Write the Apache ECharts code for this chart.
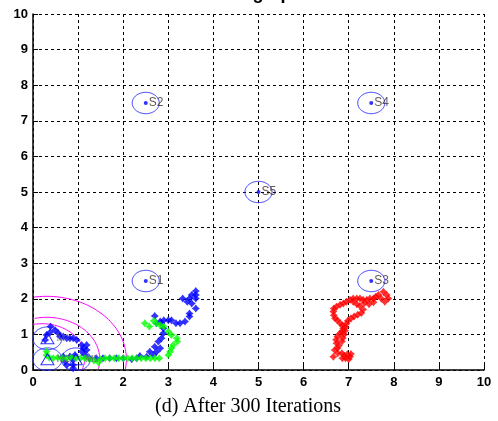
<!DOCTYPE html>
<html><head><meta charset="utf-8">
<script src="https://cdn.jsdelivr.net/npm/echarts@6/dist/echarts.min.js"></script>
<style>html,body{margin:0;padding:0;background:#fff}#c{width:498px;height:421px}</style>
</head><body><div id="c"></div>
<script>
const titleText = 'Searching Space';
const captionText = '(d) After 300 Iterations';
const xTicks = [0,1,2,3,4,5,6,7,8,9,10];
const yTicks = [0,1,2,3,4,5,6,7,8,9,10];

const sensorNames = ['S1','S2','S3','S4','S5'];
const sensorX = [2.5, 2.5, 7.5, 7.5, 5];
const sensorY = [2.5, 7.5, 2.5, 7.5, 5];
const sensorRadius = [0.3, 0.3, 0.3, 0.3, 0.3];

const mobileNames = ['M1','M2','M3'];
const mobileX = [0.32, 0.32, 0.95];
const mobileY = [0.89, 0.30, 0.30];
const mobileRadius = [0.32, 0.32, 0.32];

const rangeX = [0.3, 0.3, 0.2];
const rangeY = [0.3, 0.3, 0.35];
const rangeR = [1.77, 1.18, 0.95];

const bluePath = [[0.39,1.22],[0.49,1.12],[0.38,1.06],[0.56,1.03],[0.60,0.94],[0.67,0.94],[0.75,0.89],[0.82,0.89],[0.89,0.89],[0.97,0.84],[1.08,0.70],[1.12,0.61],[1.19,0.70],[1.19,0.56],[1.08,0.52],[1.15,0.42],[0.93,0.42],[0.82,0.38],[0.67,0.38],[0.71,0.24],[0.89,0.28],[0.89,0.14],[0.89,0.05],[0.75,0.14],[0.30,0.98],[0.27,0.84],[1.25,0.33],[1.40,0.33],[1.55,0.33],[1.70,0.33],[1.85,0.33],[2.00,0.33],
[2.19,0.30],[2.30,0.33],[2.37,0.39],[2.52,0.37],[2.67,0.42],[2.59,0.51],[2.74,0.51],[2.82,0.61],[2.70,0.65],[2.78,0.80],[2.85,0.89],[2.89,1.03],[2.89,1.17],[2.85,1.31],[2.74,1.31],[2.70,1.52],[2.82,1.36],[2.90,1.40],[3.00,1.40],[3.07,1.40],[3.17,1.31],[3.26,1.31],[3.37,1.36],[3.47,1.50],[3.47,1.59],[3.61,1.73],[3.52,1.87],[3.42,1.92],[3.32,2.01],[3.47,2.01],[3.61,2.01],[3.52,2.11],[3.61,2.11],[3.61,2.22]];

const greenPath = [[0.30,0.52],[0.30,0.42],[0.36,0.35],[0.45,0.33],[0.55,0.35],[0.65,0.33],[0.75,0.33],[0.85,0.35],[0.95,0.33],[1.05,0.33],[1.15,0.33],[1.25,0.30],[1.35,0.27],[1.45,0.22],[1.50,0.30],[1.60,0.33],[1.70,0.33],[1.80,0.33],[1.90,0.33],[2.00,0.33],[2.10,0.33],[2.20,0.33],[2.30,0.33],[2.40,0.33],[2.50,0.33],[2.60,0.33],[2.70,0.33],[2.80,0.33],
[2.48,1.31],[2.58,1.22],[2.68,1.38],[2.73,1.31],[2.82,1.26],[2.90,1.22],[3.00,1.08],[3.07,0.98],[3.19,0.89],[3.20,0.80],[3.11,0.70],[3.07,0.61],[3.04,0.51],[3.00,0.42]];

const redPath = [[7.77,2.20],[7.84,2.11],[7.88,2.01],[7.80,1.92],[7.72,2.01],[7.66,2.11],[7.60,2.06],[7.55,2.01],[7.47,2.01],[7.40,1.97],[7.32,1.97],[7.25,2.01],[7.18,2.01],[7.10,2.01],[7.03,1.97],[6.95,1.92],[6.88,1.87],[6.81,1.83],[6.73,1.78],[6.67,1.73],[6.66,1.64],[6.67,1.54],[6.70,1.45],[6.75,1.40],[6.81,1.31],[6.86,1.26],[6.88,1.17],[6.85,1.08],[6.81,1.03],[6.75,0.94],[6.72,0.85],[6.73,0.75],[6.78,0.68],[6.75,0.61],[6.69,0.56],[6.76,0.47],[6.85,0.47],[6.90,0.40],[6.97,0.44],[7.03,0.37],[6.93,0.33],[6.86,0.33],[6.66,0.37],
[7.10,1.92],[7.18,1.85],[7.25,1.80],[7.32,1.70],[7.28,1.60],[7.20,1.55],[7.12,1.50],[7.05,1.45],[6.98,1.38],[6.95,1.30],[6.93,1.20],[6.92,1.10],[6.90,1.00],[6.87,0.90],[6.85,0.80],[7.35,1.88],[7.45,1.85],[7.55,1.90],[7.00,0.30],[7.05,0.45]];

function circleSeries(xs, ys, rs, color, z) {
  const data = xs.map((x, i) => [x, ys[i], rs[i]]);
  return {
    type: 'custom', z: z, silent: true,
    data: data,
    renderItem: function (params, api) {
      const cx = api.value(0), cy = api.value(1), r = api.value(2);
      const pts = [];
      const n = 180;
      for (let k = 0; k <= n; k++) {
        const t = Math.PI * 1.25 + (2 * Math.PI * k) / n;
        const px = cx + r * Math.cos(t), py = cy + r * Math.sin(t);
        if (px >= 0 && py >= 0 && px <= 10 && py <= 10) pts.push(api.coord([px, py]));
      }
      return { type: 'polyline', shape: { points: pts }, style: { stroke: color, fill: null, lineWidth: 1 } };
    }
  };
}

const starMark = 'path://M0,-5L2.2,-2.2L5,0L2.2,2.2L0,5L-2.2,2.2L-5,0L-2.2,-2.2Z';
const chart = echarts.init(document.getElementById('c'), null, { renderer: 'canvas' });
const axisCommon = {
  type: 'value', min: 0, max: 10, interval: 1,
  axisLine: { show: true, lineStyle: { color: '#000', width: 1.5 } },
  axisTick: { show: true, inside: true, length: 5, lineStyle: { color: '#000', width: 1 } },
  axisLabel: { color: '#000', fontWeight: 'bold', fontSize: 13, fontFamily: 'Liberation Sans, Arial, sans-serif' },
  splitLine: { show: true, lineStyle: { color: '#000', width: 1, type: [3, 3] } }
};
chart.setOption({
  animation: false,
  backgroundColor: '#fff',
  grid: { left: 33, right: 14, top: 14, bottom: 51, containLabel: false },
  xAxis: Object.assign({}, axisCommon, { axisLabel: Object.assign({}, axisCommon.axisLabel, { margin: 6, formatter: v => String(xTicks[v]) }) }),
  yAxis: Object.assign({}, axisCommon, { axisLabel: Object.assign({}, axisCommon.axisLabel, { margin: 5, formatter: v => String(yTicks[v]) }) }),
  graphic: [
    { type: 'text', left: 'center', top: -15, style: { text: titleText, font: 'bold 18px "Liberation Sans", Arial, sans-serif', fill: '#000' }, z: 10 },
    { type: 'text', x: 248, y: 407, style: { text: captionText, font: '20px "Liberation Serif", "Times New Roman", serif', fill: '#000', textAlign: 'center', textVerticalAlign: 'middle' } }
  ],
  series: [
    circleSeries(rangeX, rangeY, rangeR, '#ff00ff', 2),
    circleSeries(sensorX, sensorY, sensorRadius, '#2a2aff', 3),
    circleSeries(mobileX, mobileY, mobileRadius, '#2a2aff', 3),
    {
      type: 'scatter', z: 5, symbol: starMark, symbolSize: 8,
      itemStyle: { color: '#0000ff' }, data: bluePath
    },
    {
      type: 'scatter', z: 6, symbol: starMark, symbolSize: 8,
      itemStyle: { color: '#00ff00' }, data: greenPath
    },
    {
      type: 'scatter', z: 5, symbol: starMark, symbolSize: 8,
      itemStyle: { color: '#ff0000' }, data: redPath
    },
    {
      type: 'scatter', z: 7, symbol: 'triangle', symbolSize: [13, 11],
      itemStyle: { color: 'rgba(0,0,0,0)', borderColor: '#0000ff', borderWidth: 1 },
      label: { show: true, position: 'right', distance: 2, formatter: p => mobileNames[p.dataIndex], color: '#666', fontSize: 10, fontFamily: 'Liberation Serif, serif' },
      data: mobileX.map((x, i) => [x, mobileY[i]])
    },
    {
      type: 'scatter', z: 7, symbol: 'circle', symbolSize: 4,
      itemStyle: { color: '#0000ff' },
      label: { show: true, position: 'right', distance: 1, formatter: p => sensorNames[p.dataIndex], color: '#3a3028', fontSize: 12, fontFamily: 'Liberation Sans, Arial, sans-serif' },
      data: sensorX.map((x, i) => [x, sensorY[i]])
    }
  ]
});
</script></body></html>
